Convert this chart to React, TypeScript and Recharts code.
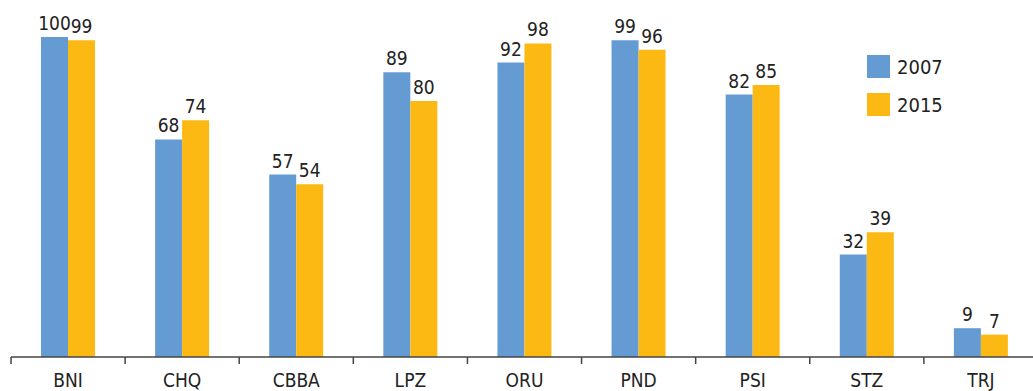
import React from "react";
import { BarChart, Bar, XAxis, YAxis, LabelList } from "recharts";

const categories = ["BNI", "CHQ", "CBBA", "LPZ", "ORU", "PND", "PSI", "STZ", "TRJ"];
const values2007 = [100, 68, 57, 89, 92, 99, 82, 32, 9];
const values2015 = [99, 74, 54, 80, 98, 96, 85, 39, 7];
const seriesNames = ["2007", "2015"];

const BLUE = "#659bd3";
const ORANGE = "#fdb913";
const COLORS = [BLUE, ORANGE];
const FONT = "'Liberation Sans Narrow', 'DejaVu Sans Condensed', 'Open Sans', sans-serif";

const data = categories.map((c, i) => ({ name: c, a: values2007[i], b: values2015[i] }));

const Tick = (props: any) => {
  const { x, y, payload } = props;
  const off = payload && payload.offset != null ? payload.offset : 57;
  return (
    <g>
      <line x1={x - off} x2={x - off} y1={y} y2={y + 7} stroke="#444" strokeWidth={1.5} />
      <text x={x} y={y + 30} textAnchor="middle" fontFamily={FONT} fontSize={19} fill="#222">
        {payload.value}
      </text>
    </g>
  );
};

export default function App() {
  return (
    <div style={{ position: "absolute", left: 0, top: 0, width: 1033, height: 391, overflow: "hidden", background: "#fff" }}>
      <BarChart
        width={1040}
        height={391}
        data={data}
        margin={{ top: 37, right: 2, left: 11, bottom: 0 }}
        barCategoryGap={30}
        barGap={0}
      >
        <YAxis hide domain={[0, 100]} width={0} />
        <XAxis
          dataKey="name"
          height={34}
          axisLine={{ stroke: "#444", strokeWidth: 1.5 }}
          tickLine={false}
          tickSize={0}
          tickMargin={0}
          tick={<Tick />}
          interval={0}
        />
        <Bar dataKey="a" name={seriesNames[0]} fill={BLUE} isAnimationActive={false}>
          <LabelList dataKey="a" position="top" offset={7} fontFamily={FONT} fontSize={19} fill="#222" />
        </Bar>
        <Bar dataKey="b" name={seriesNames[1]} fill={ORANGE} isAnimationActive={false}>
          <LabelList dataKey="b" position="top" offset={7} fontFamily={FONT} fontSize={19} fill="#222" />
        </Bar>
      </BarChart>
      <div style={{ position: "absolute", left: 867, top: 55, fontFamily: FONT, fontSize: 20, color: "#222" }}>
        {seriesNames.map((n, i) => (
          <div key={n} style={{ display: "flex", alignItems: "center", height: 23, marginBottom: 15 }}>
            <div style={{ width: 23, height: 23, background: COLORS[i], marginRight: 7 }} />
            <span>{n}</span>
          </div>
        ))}
      </div>
    </div>
  );
}
